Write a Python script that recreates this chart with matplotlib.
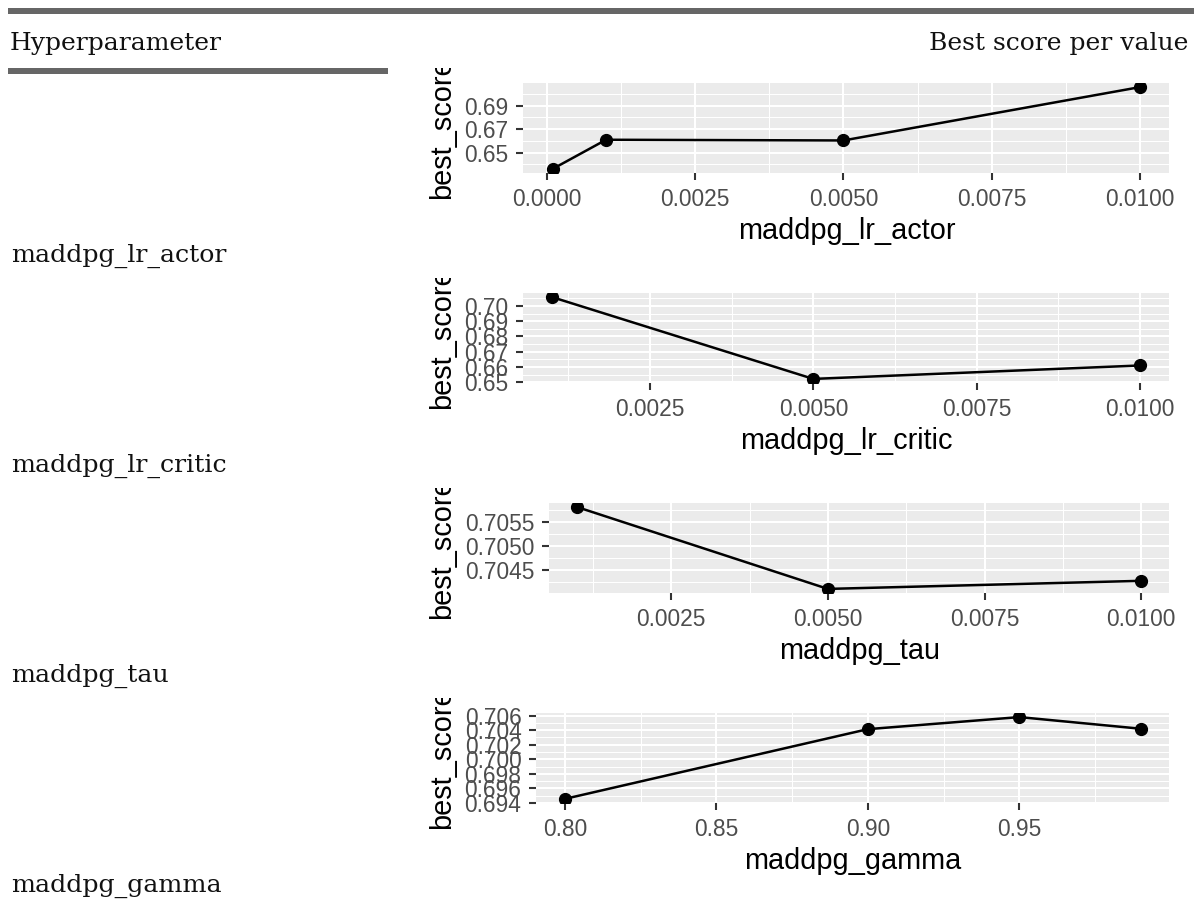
import matplotlib
matplotlib.use("Agg")
import matplotlib.pyplot as plt
from matplotlib.ticker import FixedLocator, FixedFormatter
from matplotlib.patches import Rectangle
from matplotlib.transforms import Bbox, TransformedBbox

# ---- data -------------------------------------------------------------
hyperparameters = ["maddpg_lr_actor", "maddpg_lr_critic", "maddpg_tau", "maddpg_gamma"]

lr_actor_values = [0.0001, 0.001, 0.005, 0.01]
lr_actor_scores = [0.6362, 0.6610, 0.6604, 0.7058]

lr_critic_values = [0.001, 0.005, 0.01]
lr_critic_scores = [0.7058, 0.6522, 0.6610]

tau_values = [0.001, 0.005, 0.01]
tau_scores = [0.70582, 0.70410, 0.70427]

gamma_values = [0.80, 0.90, 0.95, 0.99]
gamma_scores = [0.69454, 0.70414, 0.70580, 0.70420]

# axis breaks and their labels
lr_actor_xticks = [0.0, 0.0025, 0.005, 0.0075, 0.01]
lr_actor_xlabels = ["0.0000", "0.0025", "0.0050", "0.0075", "0.0100"]
lr_actor_yticks = [0.65, 0.67, 0.69]
lr_actor_ylabels = ["0.65", "0.67", "0.69"]

lr_critic_xticks = [0.0025, 0.005, 0.0075, 0.01]
lr_critic_xlabels = ["0.0025", "0.0050", "0.0075", "0.0100"]
lr_critic_yticks = [0.65, 0.66, 0.67, 0.68, 0.69, 0.70]
lr_critic_ylabels = ["0.65", "0.66", "0.67", "0.68", "0.69", "0.70"]

tau_xticks = [0.0025, 0.005, 0.0075, 0.01]
tau_xlabels = ["0.0025", "0.0050", "0.0075", "0.0100"]
tau_yticks = [0.7045, 0.7050, 0.7055]
tau_ylabels = ["0.7045", "0.7050", "0.7055"]

gamma_xticks = [0.80, 0.85, 0.90, 0.95]
gamma_xlabels = ["0.80", "0.85", "0.90", "0.95"]
gamma_yticks = [0.694, 0.696, 0.698, 0.700, 0.702, 0.704, 0.706]
gamma_ylabels = ["0.694", "0.696", "0.698", "0.700", "0.702", "0.704", "0.706"]

header_left = "Hyperparameter"
header_right = "Best score per value"
y_title = "best_score"

panels = [
    (lr_actor_values, lr_actor_scores, lr_actor_xticks, lr_actor_xlabels,
     lr_actor_yticks, lr_actor_ylabels),
    (lr_critic_values, lr_critic_scores, lr_critic_xticks, lr_critic_xlabels,
     lr_critic_yticks, lr_critic_ylabels),
    (tau_values, tau_scores, tau_xticks, tau_xlabels, tau_yticks, tau_ylabels),
    (gamma_values, gamma_scores, gamma_xticks, gamma_xlabels,
     gamma_yticks, gamma_ylabels),
]

# ---- layout (pixels) --------------------------------------------------
W, H, DPI = 1194, 900, 100
ROW_STEP = 210
RULE = "#666666"
TEXT = "#111111"
SERIF = ["DejaVu Serif"]
SANS = ["Liberation Sans", "DejaVu Sans"]

panel_left = [523.3, 522.6, 549.0, 536.0]
PANEL_RIGHT = 1169.4
PANEL_TOP0 = 83
PANEL_H = 90
IMG_TOP0 = 68
IMG_LEFT = 388
YLAB_X = 441.7

fig = plt.figure(figsize=(W / DPI, H / DPI), dpi=DPI)
fig.patch.set_facecolor("white")


def fx(px):
    return px / W


def fy(py):
    return 1 - py / H


def hrule(x0, x1, y0, y1):
    fig.add_artist(Rectangle((fx(x0), fy(y1)), fx(x1) - fx(x0), fy(y0) - fy(y1),
                             transform=fig.transFigure, facecolor=RULE,
                             edgecolor="none", zorder=0))


def expand(vals, mult=0.05):
    lo, hi = min(vals), max(vals)
    pad = (hi - lo) * mult
    return lo - pad, hi + pad


def minor_breaks(major, lims):
    """Midpoints between major breaks, extended one step past each end."""
    step = major[1] - major[0]
    b = list(major)
    if lims[0] < b[0]:
        b = [b[0] - step] + b
    if lims[1] > b[-1]:
        b = b + [b[-1] + step]
    mids = [(a + c) / 2 for a, c in zip(b[:-1], b[1:])]
    return [m for m in mids if lims[0] <= m <= lims[1]]


# table rules and header
hrule(8, W, 8, 14)
hrule(8, IMG_LEFT, 68, 74)
fig.text(fx(10), fy(50), header_left, family=SERIF, fontsize=18,
         va="baseline", ha="left", color=TEXT)
fig.text(fx(1188), fy(50), header_right, family=SERIF, fontsize=18,
         va="baseline", ha="right", color=TEXT)

for i, (name, (xs, ys, xt, xl, yt, yl), left) in enumerate(
        zip(hyperparameters, panels, panel_left)):
    off = i * ROW_STEP
    top = PANEL_TOP0 + off
    bottom = top + PANEL_H
    ax = fig.add_axes([fx(left), fy(bottom), fx(PANEL_RIGHT) - fx(left),
                       fy(top) - fy(bottom)])
    ax.set_facecolor("#EBEBEB")
    for sp in ax.spines.values():
        sp.set_visible(False)

    ax.plot(xs, ys, color="black", lw=1.8, marker="o", ms=8.5, zorder=3)
    xlim = expand(xs)
    ylim = expand(ys)
    ax.set_xlim(*xlim)
    ax.set_ylim(*ylim)

    ax.xaxis.set_major_locator(FixedLocator(xt))
    ax.xaxis.set_major_formatter(FixedFormatter(xl))
    ax.yaxis.set_major_locator(FixedLocator(yt))
    ax.yaxis.set_major_formatter(FixedFormatter(yl))
    ax.xaxis.set_minor_locator(FixedLocator(minor_breaks(xt, xlim)))
    ax.yaxis.set_minor_locator(FixedLocator(minor_breaks(yt, ylim)))

    ax.grid(which="minor", color="white", lw=0.75, zorder=0)
    ax.grid(which="major", color="white", lw=1.5, zorder=0)
    ax.set_axisbelow(True)
    ax.tick_params(which="minor", length=0)
    ax.tick_params(which="major", length=5, width=1.5, color="#333333",
                   labelcolor="#4D4D4D", labelsize=16.4, pad=5.5)
    for lab in ax.get_xticklabels() + ax.get_yticklabels():
        lab.set_family(SANS)

    # axis titles
    ax.set_xlabel(name, fontsize=20.8, family=SANS, color="black")
    ax.xaxis.set_label_coords(0.5, -66 / PANEL_H)
    ax.xaxis.label.set_va("baseline")

    ax.set_ylabel(y_title, fontsize=20.8, family=SANS, color="black")
    ax.yaxis.set_label_coords((YLAB_X - left) / (PANEL_RIGHT - left), 0.5)
    ax.yaxis.label.set_va("center")
    img_top = IMG_TOP0 + off
    clip = TransformedBbox(Bbox.from_extents(0, fy(img_top + 190), 1, fy(img_top)),
                           fig.transFigure)
    ax.yaxis.label.set_clip_box(clip)
    ax.yaxis.label.set_clip_on(True)

    # row label
    fig.text(fx(11), fy(261.7 + off), name, family=SERIF, fontsize=18.2,
             va="baseline", ha="left", color=TEXT)

fig.savefig("out.png", dpi=DPI, facecolor="white")
